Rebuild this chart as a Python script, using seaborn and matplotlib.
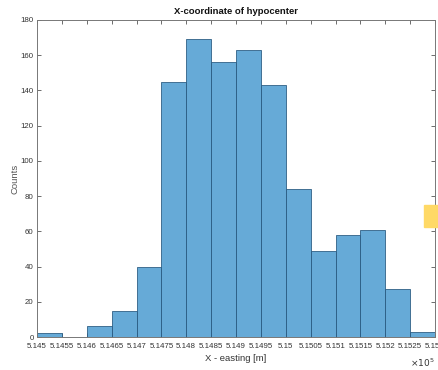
import numpy as np
import pandas as pd
import matplotlib
matplotlib.use("Agg")
import matplotlib.pyplot as plt
import matplotlib.patches as mpatches
from matplotlib.ticker import FuncFormatter
import seaborn as sns

# Histogram bin edges (easting, m) and the counts in each bin
bin_edges = [514500, 514550, 514600, 514650, 514700, 514750, 514800, 514850,
             514900, 514950, 515000, 515050, 515100, 515150, 515200, 515250, 515300]
counts = [2, 0, 6, 15, 40, 145, 169, 156, 163, 143, 84, 49, 58, 61, 27, 3]
y_ticks = [0, 20, 40, 60, 80, 100, 120, 140, 160, 180]

edges = np.array(bin_edges, dtype=float)
centers = (edges[:-1] + edges[1:]) / 2
df = pd.DataFrame({"easting": centers, "count": counts})

sns.set_theme(style="white")
plt.rcParams["font.family"] = ["Liberation Sans", "DejaVu Sans"]

fig = plt.figure(figsize=(4.39, 3.70), dpi=100)
ax = fig.add_axes([37 / 439, 1 - 337 / 370, (435 - 37) / 439, (337 - 20) / 370])

sns.histplot(data=df, x="easting", weights="count", bins=list(bin_edges), ax=ax,
             color="#0072BD", alpha=0.6, edgecolor="#2f5f85", linewidth=0.6,
             stat="count")

ax.set_xlim(edges[0], edges[-1])
ax.set_ylim(0, 180)
ax.set_xticks(edges)
ax.xaxis.set_major_formatter(FuncFormatter(lambda v, p: f"{v / 1e5:g}"))
ax.set_yticks(y_ticks)

ax.tick_params(axis="both", which="major", direction="in", length=3, width=0.6,
               color="#555555", labelsize=5.7, labelcolor="#333333",
               top=True, right=True, bottom=True, left=True, pad=2.5)
ax.tick_params(axis="x", pad=4)
for s in ax.spines.values():
    s.set_color("#777777")
    s.set_linewidth(0.7)

ax.set_title("X-coordinate of hypocenter", fontsize=6.8, fontweight="bold",
             color="#111111", pad=4)
ax.set_xlabel("X - easting [m]", fontsize=6.8, color="#333333", labelpad=3)
ax.set_ylabel("Counts", fontsize=6.8, color="#555555")
ax.yaxis.set_label_coords(-0.045, 0.5)

fig.text(435 / 439, 1 - 363 / 370, r"$\times10^5$", fontsize=6.5, color="#333333",
         ha="right", va="center")

# Yellow marker at the right edge of the figure
fig.patches.append(mpatches.Rectangle((424 / 439, 1 - 227 / 370), 15 / 439, 22 / 370,
                                      transform=fig.transFigure, color="#FFD966",
                                      zorder=5))

fig.savefig("out.png", dpi=100)
